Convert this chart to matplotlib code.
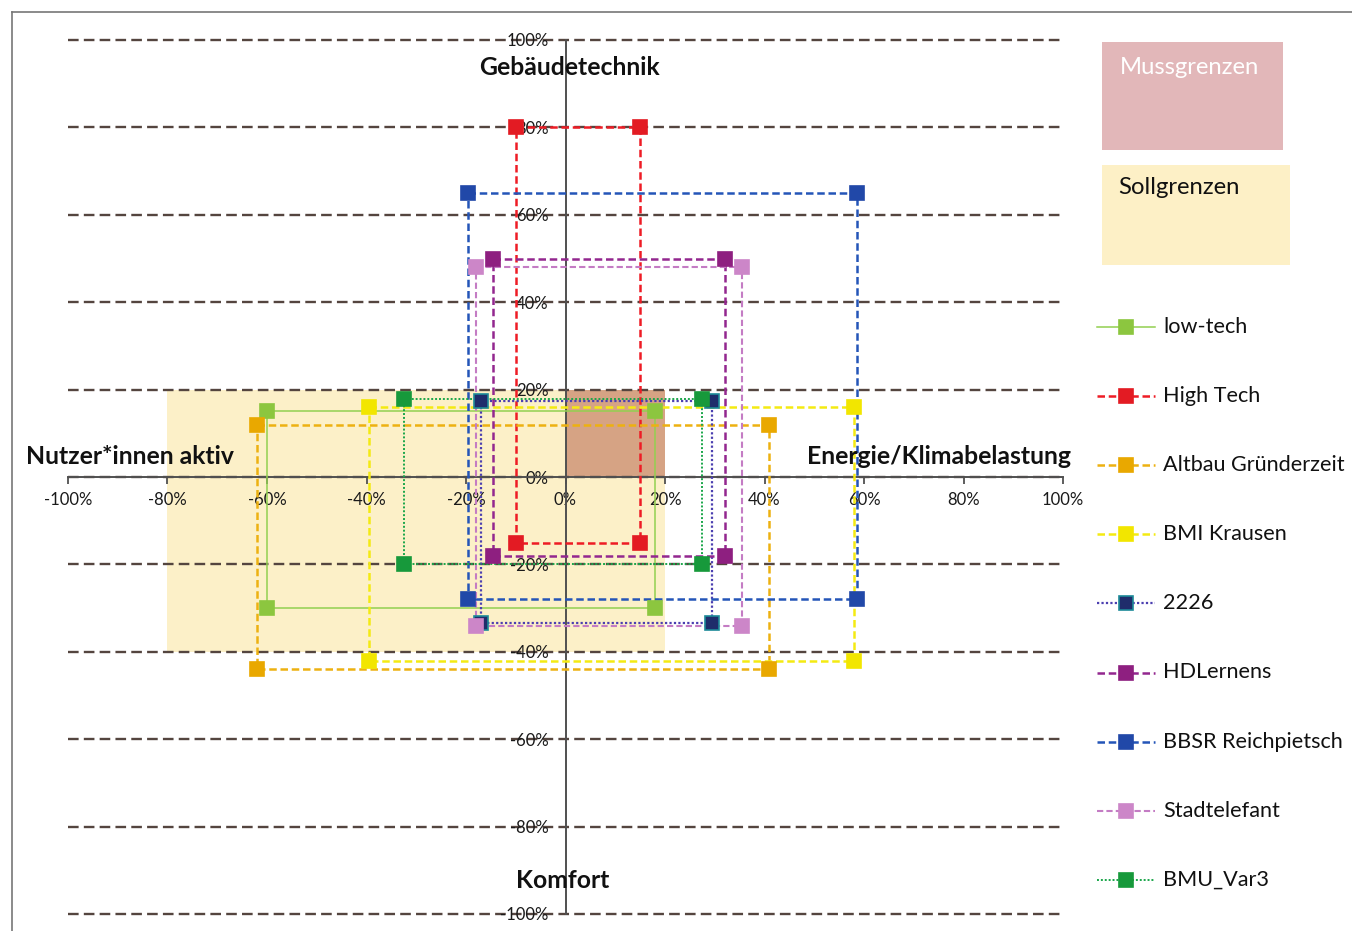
import numpy as np
import matplotlib
matplotlib.use('Agg')
import matplotlib.pyplot as plt
from matplotlib.patches import Rectangle
from matplotlib.lines import Line2D

plt.rcParams['font.family'] = ['Lato', 'DejaVu Sans']

# --- Daten: jedes Projekt ist ein Rechteck (links/rechts, oben/unten) in % ---
names = ['low-tech', 'High Tech', 'Altbau Gründerzeit', 'BMI Krausen', '2226',
         'HDLernens', 'BBSR Reichpietsch', 'Stadtelefant', 'BMU_Var3']
x_left = [-60, -10, -62, -39.5, -17, -14.5, -19.5, -18, -32.5]
x_right = [18, 15, 41, 58, 29.5, 32, 58.5, 35.5, 27.5]
y_top = [15, 80, 12, 16, 17.3, 50, 65, 48, 17.8]
y_bottom = [-30, -15, -44, -42, -33.5, -18, -28, -34, -20]

line_colors = ['#92d050', '#ee1c25', '#edb111', '#f4ea12', '#4b3fb0',
               '#93278f', '#2455b8', '#c47cc4', '#1aa64a']
marker_colors = ['#8cc63f', '#e31b23', '#e9a800', '#f2e600', '#1f2d6b',
                 '#8e1f80', '#2148a8', '#cc86c8', '#17993b']
marker_edges = ['#8cc63f', '#e31b23', '#e9a800', '#f2e600', '#1d8a98',
                '#8e1f80', '#2148a8', '#cc86c8', '#17993b']
line_styles = ['-', (0, (3, 1.5)), (0, (3, 1.5)), (0, (3, 1.5)), (0, (1, 1)),
               (0, (3, 1.5)), (0, (3, 1.5)), (0, (3, 1.5)), (0, (1, 1))]
line_widths = [1.1, 1.8, 1.8, 1.8, 1.6, 1.8, 1.8, 1.5, 1.4]

# Grenzbereiche
muss = (0, 0, 20, 20)        # x, y, Breite, Höhe
soll = (-80, -40, 100, 60)

tick_vals = np.arange(-100, 101, 20)
tick_labels = [f'{v}%' for v in tick_vals]

W, H = 1352, 931
fig = plt.figure(figsize=(W / 100, H / 100), dpi=100)
ax = fig.add_axes([68 / W, 17 / H, 995 / W, 874 / H])
ax.set_xlim(-100, 100)
ax.set_ylim(-100, 100)
ax.patch.set_visible(False)

ax.add_patch(Rectangle(soll[:2], soll[2], soll[3], facecolor='#fcf0c8', edgecolor='none', zorder=0))
ax.add_patch(Rectangle(muss[:2], muss[2], muss[3], facecolor='#d6a384', edgecolor='none', zorder=0.5))

# Achsen durch den Nullpunkt
for side in ['top', 'right']:
    ax.spines[side].set_visible(False)
ax.spines['bottom'].set_position(('data', 0))
ax.spines['left'].set_position(('data', 0))
for side in ['bottom', 'left']:
    ax.spines[side].set_color('#505050')
    ax.spines[side].set_linewidth(1.4)
    ax.spines[side].set_zorder(1.5)

ax.set_xticks(tick_vals)
ax.set_xticklabels(tick_labels)
ax.set_yticks(tick_vals)
ax.set_yticklabels(tick_labels)
ax.tick_params(axis='x', direction='out', length=5, width=1.3, color='#505050',
               pad=6, labelsize=12, labelcolor='#1a1a1a')
ax.tick_params(axis='y', length=0, pad=12, labelsize=12, labelcolor='#1a1a1a')
for lbl in ax.get_yticklabels():
    lbl.set_zorder(3)
ax.yaxis.grid(True, color='#54453f', linestyle=(0, (4.5, 2.2)), linewidth=1.7, zorder=1)
for gl in ax.get_ygridlines():
    gl.set_clip_on(False)
ax.set_axisbelow(True)

# Projekte
for i, name in enumerate(names):
    xs = [x_left[i], x_right[i], x_right[i], x_left[i], x_left[i]]
    ys = [y_top[i], y_top[i], y_bottom[i], y_bottom[i], y_top[i]]
    ax.plot(xs, ys, color=line_colors[i], linestyle=line_styles[i],
            linewidth=line_widths[i], zorder=2 + i * 0.01, clip_on=False)
    ax.plot(xs[:4], ys[:4], linestyle='none', marker='s', markersize=10.5,
            markerfacecolor=marker_colors[i], markeredgecolor=marker_edges[i],
            markeredgewidth=1.2, zorder=2.5 + i * 0.01, clip_on=False)

# Achsentitel
bold = dict(fontsize=17.8, fontweight='bold', color='#111111', zorder=4)
ax.text(0.8, 93.6, 'Gebäudetechnik', ha='center', va='center', **bold)
ax.text(-0.6, -92.3, 'Komfort', ha='center', va='center', **bold)
ax.text(-108.5, 4.6, 'Nutzer*innen aktiv', ha='left', va='center', **bold)
ax.text(101.6, 4.6, 'Energie/Klimabelastung', ha='right', va='center', **bold)

# Legende (Pixelkoordinaten)
lg = fig.add_axes([0, 0, 1, 1])
lg.set_xlim(0, W)
lg.set_ylim(H, 0)
lg.axis('off')
lg.patch.set_visible(False)

lg.add_patch(Rectangle((1102, 42), 181, 108, facecolor='#e2b7b9', edgecolor='none'))
lg.text(1120, 67, 'Mussgrenzen', color='white', fontsize=17.2, va='center', ha='left')
lg.add_patch(Rectangle((1102, 165), 188, 100, facecolor='#fdf0c6', edgecolor='none'))
lg.text(1118, 187, 'Sollgrenzen', color='#111111', fontsize=17.2, va='center', ha='left')

for i, name in enumerate(names):
    y = 327 + i * 69.1
    lg.plot([1097, 1155], [y, y], color=line_colors[i], linestyle=line_styles[i],
            linewidth=line_widths[i])
    lg.plot([1126], [y], linestyle='none', marker='s', markersize=10.5,
            markerfacecolor=marker_colors[i], markeredgecolor=marker_edges[i],
            markeredgewidth=1.2)
    lg.text(1163, y, name, fontsize=15.6, va='center', ha='left', color='#111111')

# Rahmen oben/links
fig.add_artist(Line2D([12 / W, 12 / W], [0, 1 - 12 / H], color='#777777', linewidth=1.2))
fig.add_artist(Line2D([12 / W, 1], [1 - 12 / H, 1 - 12 / H], color='#777777', linewidth=1.2))

fig.savefig('out.png', dpi=100)
